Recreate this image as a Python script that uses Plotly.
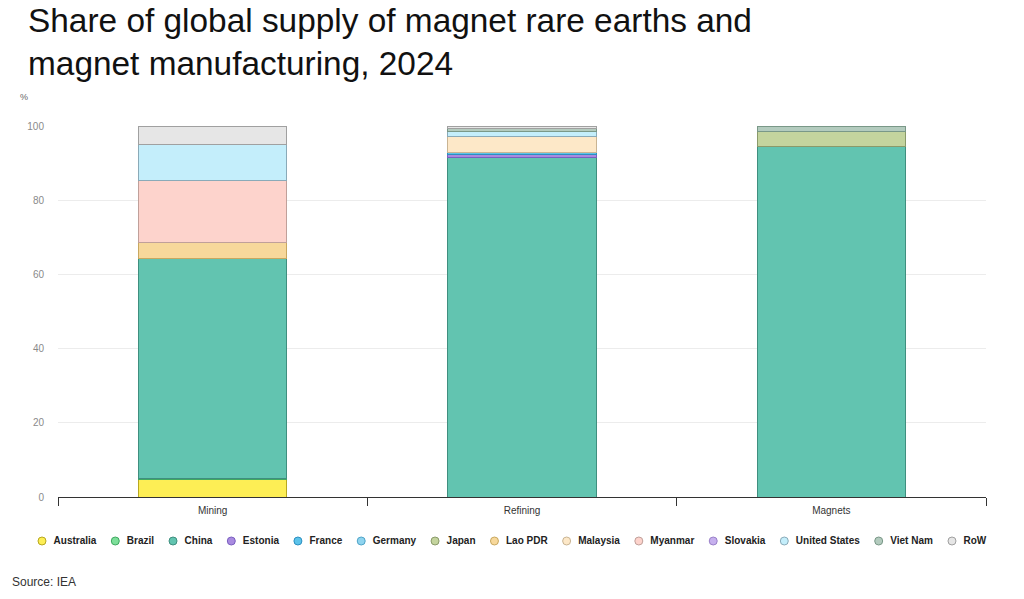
import plotly.graph_objects as go

# ---------------- data ----------------
stages = ["Mining", "Refining", "Magnets"]

countries = ["Australia", "Brazil", "China", "Estonia", "France", "Germany", "Japan",
             "Lao PDR", "Malaysia", "Myanmar", "Slovakia", "United States", "Viet Nam", "RoW"]

australia = [4.7, None, None]
brazil = [0.3, None, None]
china = [59.2, 91.5, 94.5]
estonia = [None, 0.7, None]
france = [None, 0.7, None]
germany = [None, None, None]
japan = [None, None, 4.1]
lao_pdr = [4.3, None, None]
malaysia = [None, 4.4, None]
myanmar = [16.7, None, None]
slovakia = [None, None, None]
united_states = [9.7, 1.2, None]
viet_nam = [None, 0.8, 1.4]
row = [5.1, 0.7, None]

series = [australia, brazil, china, estonia, france, germany, japan,
          lao_pdr, malaysia, myanmar, slovakia, united_states, viet_nam, row]

y_ticks = [0, 20, 40, 60, 80, 100]

# ---------------- styles ----------------
fills = ["#fdee55", "#7ddf9a", "#62c4b0", "#a98be0", "#5cc3ea", "#8fd4ef", "#c4d49e",
         "#f7d89b", "#fde8c8", "#fdd3cc", "#c6b0ee", "#c4eefb", "#b3cbbe", "#e6e6e6"]
lines = ["#b8a820", "#3fa860", "#3f8f7f", "#7a5fc0", "#2c8fc0", "#4fa4c8", "#8a9a6a",
         "#c8a860", "#c9b493", "#c0a09a", "#9a80c8", "#8aaab8", "#7a9888", "#a0a0a0"]

# Arial/Liberation Sans Bold advance widths (per 1000 em) for legend spacing
_w = {"A": 722, "B": 722, "C": 722, "D": 722, "E": 667, "F": 611, "G": 778, "J": 556,
      "L": 611, "M": 833, "N": 722, "O": 778, "P": 667, "R": 722, "S": 667, "T": 611,
      "U": 722, "V": 667, "W": 944, "a": 556, "b": 611, "c": 556, "d": 611, "e": 556,
      "f": 333, "g": 611, "h": 611, "i": 278, "k": 556, "l": 278, "m": 889, "n": 611,
      "o": 611, "p": 611, "r": 389, "s": 556, "t": 333, "u": 611, "v": 556, "w": 778,
      "y": 556, "z": 500, " ": 278}
LEG_FONT = 10

# figure / plot-area geometry (pixels)
W, H = 1024, 599
M = 10                      # outer paper margin (top / bottom)
PL, PR, PT, PB = 58, 38, 126, 102
PAPER_H = H - 2 * M


def py(pixel_y):
    """pixel row -> paper fraction"""
    return (H - M - pixel_y) / PAPER_H


# legend strip layout (pixels)
LEG_X0, LEG_Y = 42, 541
MARK_TO_TEXT, TEXT_TO_MARK = 11, 19.5


def text_width(s, size=LEG_FONT):
    return sum(_w.get(c, 600) for c in s) * size / 1000.0


fig = go.Figure()

for name, vals, fc, lc in zip(countries, series, fills, lines):
    fig.add_trace(go.Bar(
        x=stages, y=vals, name=name, showlegend=False,
        marker=dict(color=fc, line=dict(color=lc, width=1)),
        width=0.48, hoverinfo="skip",
    ))

# legend: circle markers followed by their labels, laid out from label widths
leg_x = []
cur = LEG_X0
for name in countries:
    leg_x.append(cur)
    cur += MARK_TO_TEXT + text_width(name) + TEXT_TO_MARK

fig.add_trace(go.Scatter(
    x=leg_x, y=[LEG_Y] * len(countries), xaxis="x2", yaxis="y2",
    mode="markers+text", text=["\u00a0\u00a0" + c for c in countries],
    textposition="middle right",
    textfont=dict(size=LEG_FONT, color="#222", family="Liberation Sans, Arial, sans-serif",
                  weight="bold"),
    marker=dict(symbol="circle", size=8, color=fills, line=dict(color=lines, width=1)),
    cliponaxis=False, showlegend=False, hoverinfo="skip",
))

fig.update_layout(
    barmode="stack",
    width=W, height=H,
    showlegend=False,
    margin=dict(l=0, r=0, t=M, b=M),
    paper_bgcolor="white", plot_bgcolor="rgba(0,0,0,0)",
    font=dict(family="Liberation Sans, Arial, sans-serif", color="#333"),
    title=dict(
        text="Share of global supply of magnet rare earths and<br>magnet manufacturing, 2024",
        font=dict(size=33.4, color="#111", family="Liberation Sans, Arial, sans-serif"),
        x=28 / W, xanchor="left", xref="container",
        y=1 - 32 / H, yanchor="top", yref="container",
    ),
    xaxis=dict(
        domain=[PL / W, (W - PR) / W], anchor="y",
        type="category", categoryorder="array", categoryarray=stages,
        showline=True, linecolor="#333", linewidth=1,
        ticks="outside", tickson="boundaries", ticklen=8, tickcolor="#333",
        tickfont=dict(size=10, color="#333"), ticklabelstandoff=4,
        showgrid=False, zeroline=False, fixedrange=True,
    ),
    yaxis=dict(
        domain=[py(H - PB), py(PT)], anchor="x",
        range=[0, 100], tickvals=y_ticks, showgrid=True, gridcolor="#ececec",
        gridwidth=1, zeroline=False, showline=False,
        tickfont=dict(size=10, color="#8a8a8a"), ticklabelstandoff=13,
        fixedrange=True,
    ),
    xaxis2=dict(domain=[0, 1], anchor="y2", range=[0, W], visible=False,
                showgrid=False, zeroline=False, fixedrange=True),
    yaxis2=dict(domain=[0, 1], anchor="x2", range=[H - M, M], visible=False,
                showgrid=False, zeroline=False, fixedrange=True),
    annotations=[
        dict(text="%", xref="paper", yref="paper", x=18 / W, y=py(97),
             xanchor="left", yanchor="middle", showarrow=False,
             font=dict(size=9, color="#666")),
        dict(text="Source: IEA", xref="paper", yref="paper", x=10 / W,
             y=py(582), xanchor="left", yanchor="middle", showarrow=False,
             font=dict(size=12, color="#333")),
    ],
)

fig.write_html("out.html", config={"displayModeBar": False})
